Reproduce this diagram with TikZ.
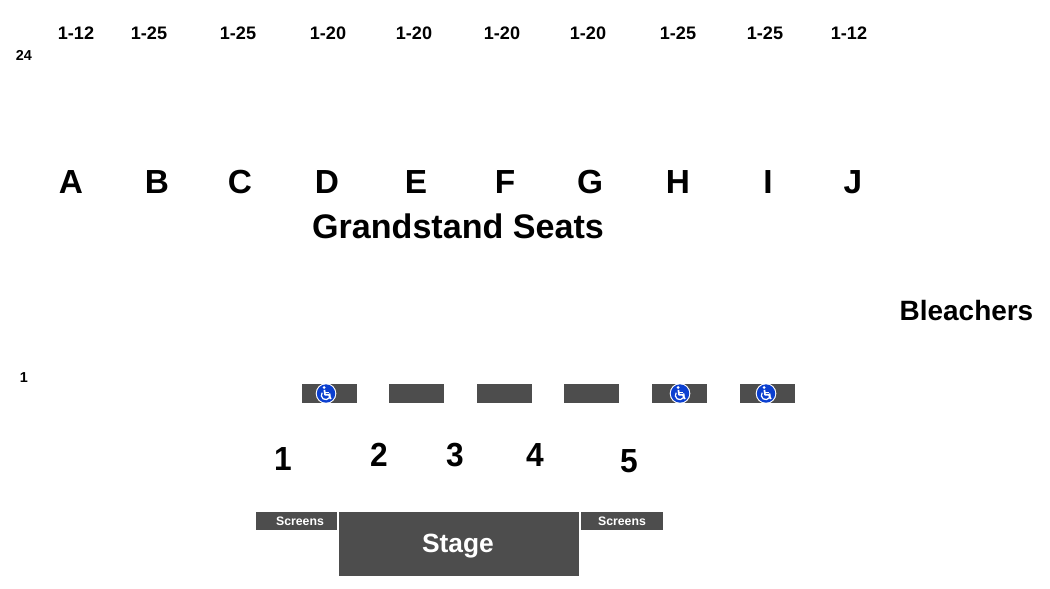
\documentclass[tikz,border=0pt]{standalone}
\usepackage{fontspec}
\setmainfont{Liberation Sans}
\definecolor{blockgray}{HTML}{4D4D4D}
\definecolor{chairblue}{HTML}{0B3FD0}
\newcommand\fs[1]{\fontsize{#1}{#1}\selectfont\bfseries}
\begin{document}
\begin{tikzpicture}[x=0.02cm,y=-0.02cm,every node/.style={inner sep=0pt},
      rng/.style={font=\fs{10.3}},sec/.style={font=\fs{19}},
      rownum/.style={font=\fs{8.2}},num/.style={font=\fs{19},xscale=0.95},
      blk/.style={fill=blockgray,draw=none},
      scr/.style={font=\fs{7},text=white},
      chair/.pic={
        \fill[white](0,0)circle(10.3);
        \fill[chairblue](0,0)circle(9.2);
        \fill[white](-1.8,-6)circle(1.5);
        \draw[white,line width=1pt,line join=round]
          (-1.6,-3.6)--(-1,1.2)--(2.8,1.2)--(4.8,5.6);
        \draw[white,line width=0.7pt](-1.3,-1.2)--(2.6,-1.2);
        \draw[white,line width=0.7pt](-3.9,-0.8)arc(215:-25:4.4);
      }]
      \useasboundingbox(0,0)rectangle(1050,588);
      \foreach \nx/\ntxt in {76/1-12,149/1-25,238/1-25,328/1-20,414/1-20,502/1-20,
        588/1-20,678/1-25,765/1-25,849/1-12}
        \node[rng](r\nx)at(\nx,33){\ntxt};
      \node[rownum](top)at(24,55){24};
      \node[rownum](bot)at(24,378){1};
      \foreach \nx/\ntxt in {71/A,157/B,240/C,327/D,416/E,505/F,590/G,678/H,768/I,853/J}
        \node[sec](s\ntxt)at(\nx,182){\ntxt};
      \node[font=\fs{19.4}](grand)at(458,226){Grandstand Seats};
      \node[font=\fs{15.9}](bleach)at(966.5,311){Bleachers};
      \foreach \nx in {302,389,477,564,652,740}
        \fill[blk](\nx,384)rectangle++(55,19);
      \foreach \nx in {326,680,766}
        \pic at(\nx,393.5){chair};
      \node[num](n1)at(283,459){1};
      \node[num](n2)at(379,455){2};
      \node[num](n3)at(455,455){3};
      \node[num](n4)at(535,455){4};
      \node[num](n5)at(629,461){5};
      \fill[blk](256,512)rectangle(337,530);
      \fill[blk](581,512)rectangle(663,530);
      \fill[blk](339,512)rectangle(579,576);
      \node[scr](scl)at(300,521.5){Screens};
      \node[scr](scr)at(622,521.5){Screens};
      \node[font=\fs{15},text=white](stage)at(458,546){Stage};
   \end{tikzpicture}
\end{document}
